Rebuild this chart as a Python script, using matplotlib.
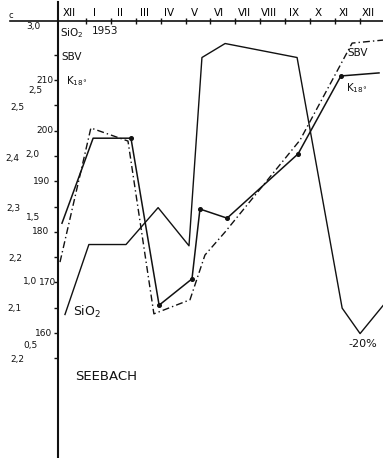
import numpy as np
import matplotlib
matplotlib.use("Agg")
from matplotlib import pyplot as plt
from matplotlib import transforms
from matplotlib.lines import Line2D

# x = months since 1 Dec 1952 (1 = 1 Jan 1953 ... 12 = 1 Dec 1953)
sio2_month = [0.16, 1.12, 2.61, 3.90, 5.14, 5.66, 6.59, 9.48, 11.29, 12.01, 12.93]
sio2_value = [0.74, 1.29, 1.29, 1.58, 1.28, 2.76, 2.87, 2.76, 0.79, 0.59, 0.81]

k18_month = [0.04, 1.29, 2.81, 3.94, 5.26, 5.58, 6.67, 9.52, 11.24, 12.77]
k18_value = [181.7, 198.5, 198.5, 165.5, 170.7, 184.5, 182.7, 195.4, 210.8, 211.4]

sbv_month = [-0.04, 1.20, 2.69, 3.73, 5.18, 5.78, 6.59, 9.60, 11.69, 12.93]
sbv_value = [2.193, 2.460, 2.434, 2.090, 2.118, 2.207, 2.253, 2.436, 2.629, 2.635]

month_labels = ["XII", "I", "II", "III", "IV", "V", "VI", "VII", "VIII", "IX", "X", "XI", "XII"]

sio2_scale = [3.0, 2.5, 2.0, 1.5, 1.0, 0.5]
sio2_scale_labels = ["3,0", "2,5", "2,0", "1,5", "1,0", "0,5"]
k18_scale = [210, 200, 190, 180, 170, 160]
k18_scale_labels = ["210", "200", "190", "180", "170", "160"]
sbv_scale = [2.5, 2.4, 2.3, 2.2, 2.1, 2.0]
sbv_scale_labels = ["2,5", "2,4", "2,3", "2,2", "2,1", "2,2"]

W, H = 383, 458
AX_L, AX_T = 58, 21

def px(x, y):
    # pixel position -> axes fraction of the main axes
    return (x - AX_L) / (W - AX_L), (H - y) / (H - AX_T)

fig = plt.figure(figsize=(W / 100, H / 100), dpi=100)
ax = fig.add_axes([AX_L / W, 0, (W - AX_L) / W, (H - AX_T) / H])
ax_s = ax.twinx()
ax_b = ax.twinx()

ax.set_xlim(-0.12, 12.93)
ax.set_ylim(135.30, 221.66)
ax_s.set_ylim(-0.388, 3.047)
ax_b.set_ylim(1.803, 2.673)

ink = "#111111"
dashdot = (0, (5, 2.2, 1, 2.2))

ax_s.plot(sio2_month, sio2_value, color=ink, lw=1.0)
ax.plot(k18_month, k18_value, color=ink, lw=1.1, marker="o", ms=2.6,
        markevery=[2, 3, 4, 5, 6, 7, 8])
ax_b.plot(sbv_month, sbv_value, color=ink, lw=1.0, linestyle=dashdot)

for a in (ax_s, ax_b):
    for s in a.spines.values():
        s.set_visible(False)
    a.set_yticks([])

ax.spines["right"].set_visible(False)
ax.spines["bottom"].set_visible(False)
ax.spines["left"].set_linewidth(1.5)
ax.spines["top"].set_linewidth(1.2)
ax.spines["left"].set_color(ink)
ax.spines["top"].set_color(ink)

ax.set_xticks(range(1, 13))
ax.set_xticks([m + 0.35 for m in range(13)], minor=True)
ax.set_xticklabels(month_labels, minor=True, fontsize=7.5)
ax.tick_params(axis="x", which="major", top=True, bottom=False, labeltop=False,
               labelbottom=False, direction="inout", length=5, width=1.0, color=ink)
ax.tick_params(axis="x", which="minor", top=True, bottom=False, labeltop=True,
               labelbottom=False, length=0, pad=2)
ax.set_yticks(np.arange(155, 216, 5))
ax.set_yticklabels([])
ax.tick_params(axis="y", which="major", left=True, direction="out", length=3,
               width=1.0, color=ink)

# hand-written scale numbers left of the axis
sio2_x = [33, 35, 32, 33, 30, 30]
k18_x = [45, 45, 42, 41, 48, 44]
sbv_x = [17, 12, 13, 15, 14, 17]
for vals, labs, xs, a in ((sio2_scale, sio2_scale_labels, sio2_x, ax_s),
                          (k18_scale, k18_scale_labels, k18_x, ax),
                          (sbv_scale, sbv_scale_labels, sbv_x, ax_b)):
    tr = transforms.blended_transform_factory(ax.transAxes, a.transData)
    for v, lab, x in zip(vals, labs, xs):
        ax.text((x - AX_L) / (W - AX_L), v, lab, transform=tr, ha="center",
                va="center", fontsize=6.5, color=ink, clip_on=False)

def note(x, y, s, size=8, ha="left", **kw):
    ax.text(*px(x, y), s, transform=ax.transAxes, ha=ha, va="center",
            fontsize=size, color=ink, clip_on=False, **kw)

note(60, 33, "SiO$_2$", 7.5)
note(92, 31, "1953", 7.5)
note(61, 57, "SBV", 7.5)
note(66, 81, "K$_{18°}$", 7.5)
note(347, 53, "SBV", 7.5)
note(346, 88, "K$_{18°}$", 7.5)
note(363, 344, "-20%", 8, ha="center")
note(73, 312, "SiO$_2$", 9)
note(106, 377, "SEEBACH", 9.5, ha="center",
     family=["Liberation Sans Narrow", "DejaVu Sans"])
note(11, 16, "c", 6, ha="center")

# axis lines continuing beyond the plotting frame
fig.add_artist(Line2D([10 / W, AX_L / W], [1 - AX_T / H] * 2, color=ink, lw=1.2))
fig.add_artist(Line2D([AX_L / W] * 2, [1 - AX_T / H, 1 - 2 / H], color=ink, lw=1.5))

fig.savefig("out.png", dpi=100)
